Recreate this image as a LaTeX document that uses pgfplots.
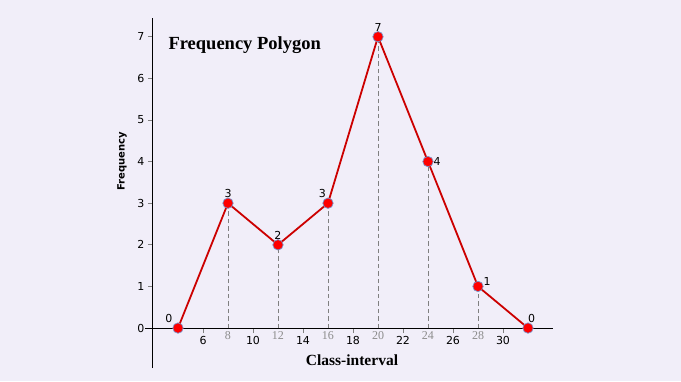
\documentclass[border=0pt]{standalone}
\usepackage{pgfplots}
\pgfplotsset{compat=1.18}
\usepackage{fontspec}
\setmainfont{DejaVu Sans}
\newfontfamily\serifbf{Liberation Serif}
\definecolor{bg}{RGB}{241,238,249}
\definecolor{linered}{RGB}{204,0,0}
\definecolor{markred}{RGB}{255,0,0}
\definecolor{markedge}{RGB}{120,150,205}
\begin{document}
\begin{tikzpicture}
\fill[bg] (-153pt,-13pt) rectangle (528pt,368pt);
\begin{axis}[
  at={(0pt,0pt)}, anchor=south west,
  scale only axis, width=400pt, height=350pt,
  xmin=2, xmax=34, ymin=-0.96, ymax=7.45,
  /pgf/number format/assume math mode=true,
  axis x line*=middle, axis y line*=left,
  hide obscured x ticks=false, hide obscured y ticks=false,
  axis line style={black, line width=1pt},
  x axis line style={shorten <=-8pt},
  tick align=outside,
  major tick length=5pt,
  tick style={gray, line width=0.8pt},
  xtick={6,10,...,30},
  ytick={0,1,...,7},
  tick label style={font=\fontsize{11}{12}\selectfont, black},
  extra x ticks={8,12,16,20,24,28},
  extra x tick style={major tick length=0pt, tick label style={font=\serifbf\fontsize{12}{13}\selectfont, color=gray!90}},
  clip=false,
  lbl/.style={draw=none, mark=none, forget plot, nodes near coords,
    nodes near coords style={anchor=#1, inner sep=5.5pt, font=\fontsize{11}{12}\selectfont, black}},
]
\addplot[ycomb, gray, dashed, line width=0.8pt, dash pattern=on 4.5pt off 3pt, forget plot]
  coordinates {(8,3) (12,2) (16,3) (20,7) (24,4) (28,1)};
\addplot[color=linered, line width=1.8pt, mark=*, mark size=5.2pt,
  mark options={fill=markred, draw=markedge, line width=0.7pt, solid}]
  coordinates {(4,0) (8,3) (12,2) (16,3) (20,7) (24,4) (28,1) (32,0)};
\addplot[lbl=270] coordinates {(8,3) (12,2) (20,7)};
\addplot[lbl=-45] coordinates {(4,0)};
\addplot[lbl=300] coordinates {(16,3)};
\addplot[lbl=180] coordinates {(24,4)};
\addplot[lbl=210] coordinates {(28,1)};
\addplot[lbl=250] coordinates {(32,0)};
\node[anchor=west, font=\serifbf\bfseries\fontsize{18.5}{20}\selectfont] at (axis cs:2.96,6.8) {Frequency Polygon};
\node[font=\serifbf\bfseries\fontsize{15.5}{17}\selectfont] at (axis cs:17.92,-0.77) {Class-interval};
\node[rotate=90, font=\bfseries\fontsize{10}{11}\selectfont] at (axis cs:-0.48,4) {Frequency};
\end{axis}
\pgfresetboundingbox
\useasboundingbox (-153pt,-13pt) rectangle (528pt,368pt);
\end{tikzpicture}
\end{document}
